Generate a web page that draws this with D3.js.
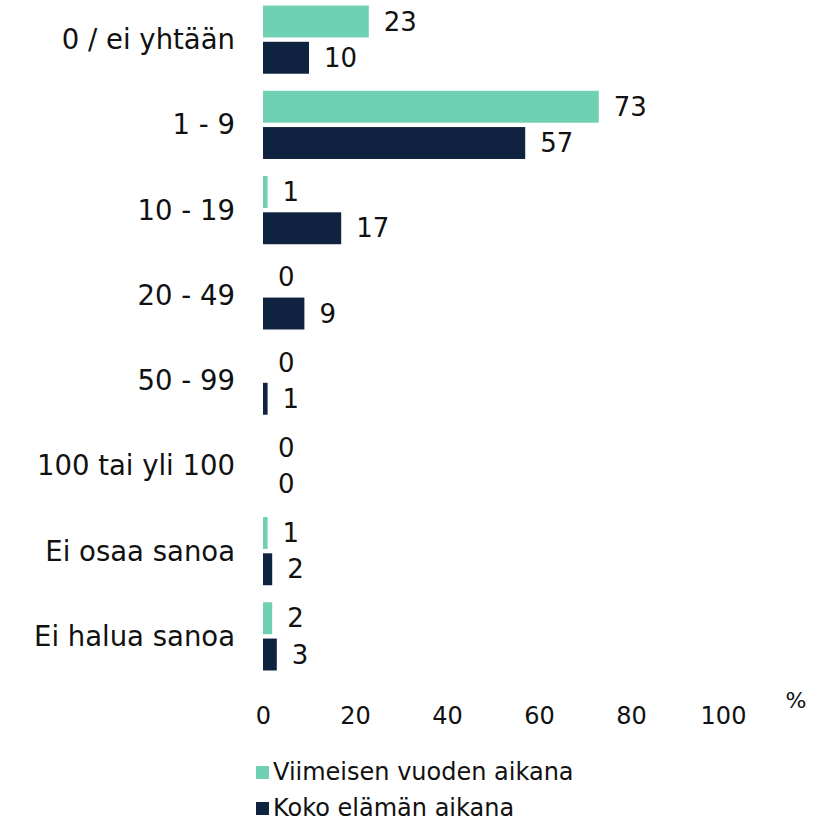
<!DOCTYPE html>
<meta charset="utf-8">
<style>
  body { margin: 0; background: #fff; }
  text { font-family: "DejaVu Sans", sans-serif; fill: #111; }
</style>
<body>
<svg width="828" height="823"></svg>
<script src="https://d3js.org/d3.v7.min.js"></script>
<script>

var categories = ['0 / ei yhtään', '1 - 9', '10 - 19', '20 - 49', '50 - 99', '100 tai yli 100', 'Ei osaa sanoa', 'Ei halua sanoa'];
var seriesNames = ['Viimeisen vuoden aikana', 'Koko elämän aikana'];
var lastYear = [23, 73, 1, 0, 0, 0, 1, 2];
var lifetime = [10, 57, 17, 9, 1, 0, 2, 3];
var xTicks = [0, 20, 40, 60, 80, 100];
var colors = ['#70d0b4', '#0f2340'];

var rows = categories.map(function(c, i) {
  return { cat: c, values: [lastYear[i], lifetime[i]] };
});

var svg = d3.select('svg');

var x = d3.scaleLinear().domain([0, 100]).range([263, 723]);
var y = d3.scaleBand().domain(categories).range([-3, 679]).paddingInner(0.2).paddingOuter(0.1);
var y1 = d3.scaleBand().domain([0, 1]).range([0, y.bandwidth()]).paddingInner(0.12);

var groups = svg.selectAll('g.row')
  .data(rows)
  .enter().append('g')
  .attr('class', 'row')
  .attr('transform', function(d) { return 'translate(0,' + y(d.cat) + ')'; });

groups.selectAll('rect')
  .data(function(d) { return d.values; })
  .enter().append('rect')
  .attr('x', x(0))
  .attr('y', function(d, i) { return y1(i); })
  .attr('width', function(d) { return x(d) - x(0); })
  .attr('height', y1.bandwidth())
  .attr('fill', function(d, i) { return colors[i]; });

groups.selectAll('text.val')
  .data(function(d) { return d.values; })
  .enter().append('text')
  .attr('class', 'val')
  .attr('x', function(d) { return x(d) + 15; })
  .attr('y', function(d, i) { return y1(i) + y1.bandwidth() / 2; })
  .attr('dy', '0.35em')
  .style('font-size', '26px')
  .text(function(d) { return d; });

// category labels
groups.append('text')
  .attr('x', 235)
  .attr('y', y.bandwidth() / 2)
  .attr('dy', '0.35em')
  .attr('text-anchor', 'end')
  .style('font-size', '27.5px')
  .text(function(d) { return d.cat; });

// x axis
var axis = svg.append('g')
  .attr('transform', 'translate(0,716)')
  .call(d3.axisBottom(x).tickValues(xTicks).tickSize(0).tickPadding(0));
axis.select('.domain').remove();
axis.selectAll('text')
  .attr('dy', '0.35em')
  .style('font-size', '24px')
  .style('font-family', '"DejaVu Sans", sans-serif')
  .attr('fill', '#111');

svg.append('text')
  .attr('x', 796)
  .attr('y', 708)
  .attr('text-anchor', 'middle')
  .style('font-size', '22px')
  .text('%');

// legend
var legend = svg.selectAll('g.legend')
  .data(seriesNames)
  .enter().append('g')
  .attr('class', 'legend')
  .attr('transform', function(d, i) { return 'translate(256,' + (772 + i * 36) + ')'; });

legend.append('rect')
  .attr('x', 0)
  .attr('y', -6)
  .attr('width', 13)
  .attr('height', 13)
  .attr('fill', function(d, i) { return colors[i]; });

legend.append('text')
  .attr('x', 17)
  .attr('y', 0)
  .attr('dy', '0.35em')
  .style('font-size', '24px')
  .text(function(d) { return d; });

</script>
